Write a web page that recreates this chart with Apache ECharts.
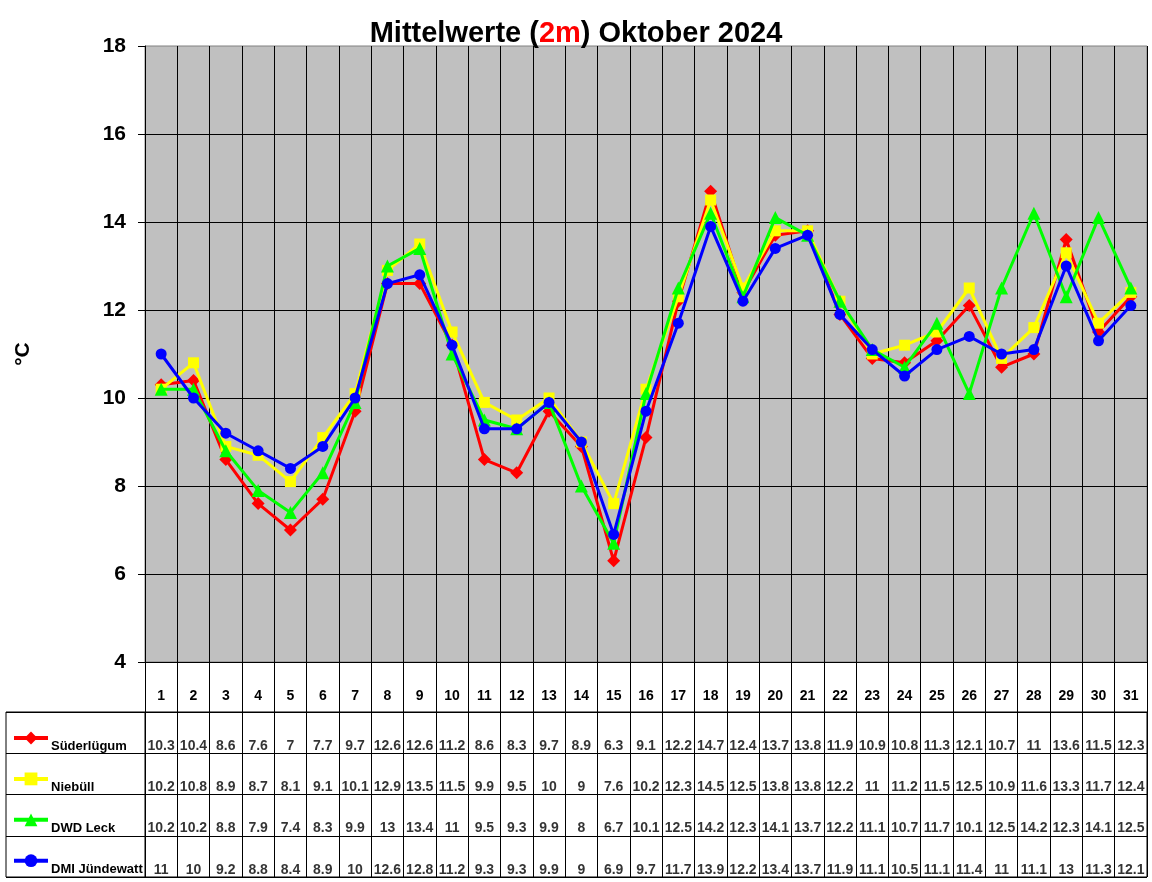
<!DOCTYPE html>
<html>
<head>
<meta charset="utf-8">
<script src="https://cdn.jsdelivr.net/npm/echarts@6/dist/echarts.min.js"></script>
<style>html,body{margin:0;padding:0;background:#fff;}#c{width:1152px;height:882px;}</style>
</head>
<body>
<div id="c"></div>
<script>
var days = ['1','2','3','4','5','6','7','8','9','10','11','12','13','14','15','16','17','18','19','20','21','22','23','24','25','26','27','28','29','30','31'];
var seriesNames = ['Süderlügum', 'Niebüll', 'DWD Leck', 'DMI Jündewatt'];
var suederluegum = [10.3,10.4,8.6,7.6,7,7.7,9.7,12.6,12.6,11.2,8.6,8.3,9.7,8.9,6.3,9.1,12.2,14.7,12.4,13.7,13.8,11.9,10.9,10.8,11.3,12.1,10.7,11,13.6,11.5,12.3];
var niebuell = [10.2,10.8,8.9,8.7,8.1,9.1,10.1,12.9,13.5,11.5,9.9,9.5,10,9,7.6,10.2,12.3,14.5,12.5,13.8,13.8,12.2,11,11.2,11.5,12.5,10.9,11.6,13.3,11.7,12.4];
var dwdLeck = [10.2,10.2,8.8,7.9,7.4,8.3,9.9,13,13.4,11,9.5,9.3,9.9,8,6.7,10.1,12.5,14.2,12.3,14.1,13.7,12.2,11.1,10.7,11.7,10.1,12.5,14.2,12.3,14.1,12.5];
var dmiJuendewatt = [11,10,9.2,8.8,8.4,8.9,10,12.6,12.8,11.2,9.3,9.3,9.9,9,6.9,9.7,11.7,13.9,12.2,13.4,13.7,11.9,11.1,10.5,11.1,11.4,11,11.1,13,11.3,12.1];
var yTicks = [4, 6, 8, 10, 12, 14, 16, 18];

var allValues = [suederluegum, niebuell, dwdLeck, dmiJuendewatt];
var colors = ['#ff0000', '#ffff00', '#00ff00', '#0000ff'];
var symbols = ['diamond', 'rect', 'triangle', 'circle'];
var symbolSizes = [13, 11, 13, 11];
var FONT = 'Liberation Sans';

var tableData = [];
allValues.forEach(function (vals, s) {
  vals.forEach(function (v, i) { tableData.push([days[i], seriesNames[s], v]); });
});

var lineSeries = allValues.map(function (vals, s) {
  return {
    name: seriesNames[s], type: 'line', xAxisIndex: 0, yAxisIndex: 0,
    data: vals, symbol: symbols[s], symbolSize: symbolSizes[s], showAllSymbol: true,
    lineStyle: { color: colors[s], width: 3 },
    itemStyle: { color: colors[s] },
    z: 3 + s, animation: false
  };
});

var chart = echarts.init(document.getElementById('c'));
chart.setOption({
  animation: false,
  textStyle: { fontFamily: FONT },
  title: {
    left: 'center', top: 19, padding: 0,
    text: '{a|Mittelwerte (}{b|2m}{a|) Oktober 2024}',
    textStyle: {
      rich: {
        a: { fontFamily: FONT, fontSize: 29, fontWeight: 'bold', color: '#000' },
        b: { fontFamily: FONT, fontSize: 29, fontWeight: 'bold', color: '#ff0000' }
      }
    }
  },
  legend: {
    orient: 'vertical', left: 12, top: 730, padding: 0,
    itemWidth: 34, itemHeight: 16, itemGap: 26.5,
    data: seriesNames,
    lineStyle: { width: 4 },
    formatter: function () { return ''; },
    textStyle: { fontFamily: FONT, fontSize: 13, fontWeight: 'bold', color: '#000' },
    selectedMode: false
  },
  grid: [
    { left: 145, top: 46, right: 5, height: 616, show: true, backgroundColor: '#c0c0c0', borderColor: '#808080', borderWidth: 1 },
    { left: 145, top: 712, right: 5, height: 165, show: true, backgroundColor: '#fff', borderColor: '#000', borderWidth: 1 },
    { left: 6, top: 712, width: 139, height: 165, show: true, backgroundColor: '#fff', borderColor: '#000', borderWidth: 1 }
  ],
  xAxis: [
    {
      gridIndex: 0, type: 'category', data: days, boundaryGap: true,
      axisLine: { show: true, lineStyle: { color: '#000', width: 1 } },
      axisTick: { show: false }, axisLabel: { show: false },
      splitLine: { show: true, lineStyle: { color: '#000', width: 1 } }
    },
    {
      gridIndex: 1, type: 'category', data: days, boundaryGap: true, position: 'top',
      axisLine: { show: true, lineStyle: { color: '#000', width: 1 } },
      axisTick: { show: true, length: 50, lineStyle: { color: '#000', width: 1 } },
      axisLabel: { show: true, margin: 9, fontFamily: FONT, fontSize: 14, fontWeight: 'bold', color: '#000', interval: 0 },
      splitLine: { show: true, lineStyle: { color: '#000', width: 1 } }
    },
    { gridIndex: 2, type: 'value', show: false, min: 0, max: 1 }
  ],
  yAxis: [
    {
      gridIndex: 0, type: 'value', min: yTicks[0], max: yTicks[yTicks.length - 1], interval: 2,
      name: '°C', nameLocation: 'middle', nameRotate: 90, nameGap: 111,
      nameTextStyle: { fontFamily: FONT, fontSize: 21, fontWeight: 'bold', color: '#000' },
      axisLine: { show: true, lineStyle: { color: '#000', width: 1 } },
      axisTick: { show: true, length: 7, lineStyle: { color: '#000', width: 1 } },
      axisLabel: { margin: 19, fontFamily: FONT, fontSize: 21, fontWeight: 'bold', color: '#000' },
      splitLine: { show: true, showMaxLine: false, lineStyle: { color: '#000', width: 1 } }
    },
    {
      gridIndex: 1, type: 'category', data: seriesNames, inverse: true, boundaryGap: true,
      axisLine: { show: false }, axisTick: { show: false }, axisLabel: { show: false },
      splitLine: { show: true, lineStyle: { color: '#000', width: 1 } }
    },
    {
      gridIndex: 2, type: 'category', data: seriesNames, inverse: true, boundaryGap: true,
      axisLine: { show: false }, axisTick: { show: false },
      axisLabel: {
        show: true, inside: true, margin: 45, align: 'left', verticalAlign: 'top',
        padding: [7, 0, 0, 0],
        fontFamily: FONT, fontSize: 13, fontWeight: 'bold', color: '#000'
      },
      splitLine: { show: true, lineStyle: { color: '#000', width: 1 } }
    }
  ],
  series: lineSeries.concat([{
    name: 'table', type: 'scatter', xAxisIndex: 1, yAxisIndex: 1,
    data: tableData, symbolSize: 1, silent: true,
    itemStyle: { color: 'rgba(0,0,0,0)' },
    label: {
      show: true, position: 'bottom', distance: 6,
      formatter: function (p) { return String(p.value[2]); },
      fontFamily: FONT, fontSize: 14, fontWeight: 'bold', color: '#000'
    },
    labelLayout: { hideOverlap: false }
  }])
});
</script>
</body>
</html>
